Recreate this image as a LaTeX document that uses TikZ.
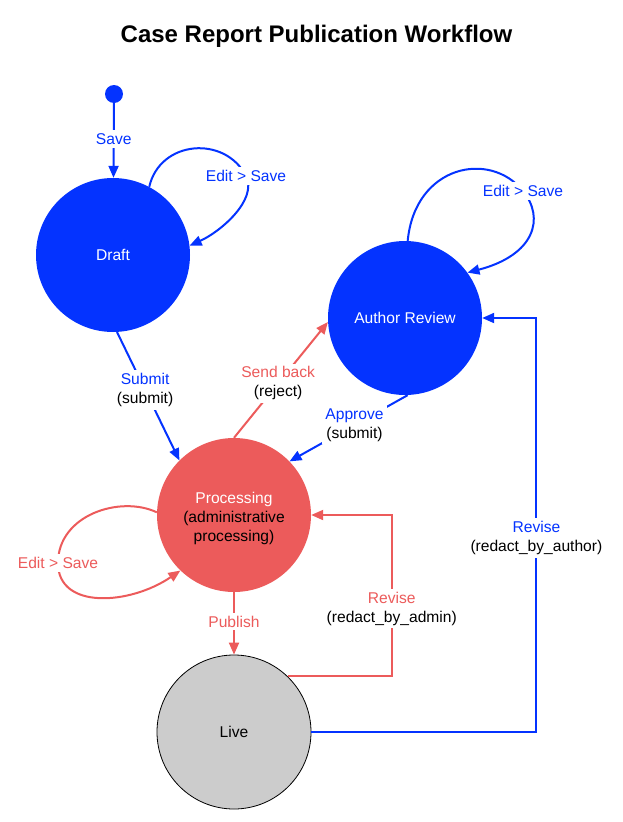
\documentclass[tikz,border=0pt]{standalone}
\usepackage{fontspec}
\setmainfont{Liberation Sans}
\usetikzlibrary{arrows.meta}
\definecolor{wfblue}{RGB}{4,51,255}
\definecolor{wfred}{RGB}{236,91,91}
\definecolor{wfgray}{RGB}{204,204,204}
\begin{document}
\begin{tikzpicture}[x=1pt,y=-1pt,
  every node/.style={font=\fontsize{15.6}{19}\selectfont},
  state/.style={circle, minimum size=154pt, inner sep=0pt, align=center},
  conn/.style={line width=2pt, -{Triangle[length=12pt,width=10pt]}},
  bconn/.style={conn, draw=wfblue},
  rconn/.style={conn, draw=wfred},
  lbl/.style={fill=white, inner sep=3pt, align=center, text=black},
]
\useasboundingbox (0,0) rectangle (623,822);
\node[anchor=base, font=\bfseries\fontsize{24}{28}\selectfont] (title) at (316.5,42) {Case Report Publication Workflow};
\node[circle, fill=wfblue, minimum size=18pt, inner sep=0pt] (start) at (114,94) {};
\node[state, fill=wfblue, text=white] (draft) at (113,255) {Draft};
\node[state, fill=wfblue, text=white] (ar) at (405,318) {Author Review};
\node[state, fill=wfred, label={[align=center, yshift=-3pt]center:{\textcolor{white}{Processing}\\(administrative\\processing)}}] (proc) at (234,515) {};
\node[state, fill=wfgray, draw=black, line width=0.8pt] (live) at (234,732) {Live};

\draw[bconn] (start) -- node[lbl, text=wfblue, pos=0.48]{Save} (draft);
\draw[bconn] (draft.62) .. controls (160,140) and (225,135) .. (246,176) node[lbl,text=wfblue]{Edit > Save} .. controls (258,200) and (220,232) .. (draft.7);
\draw[bconn] (draft.-87) -- node[lbl, pos=0.45]{\textcolor{wfblue}{Submit}\\(submit)} (proc.135);
\draw[rconn] (proc.90) -- node[lbl, pos=0.47]{\textcolor{wfred}{Send back}\\(reject)} (ar.183);
\draw[bconn] (ar.-88) -- node[lbl, pos=0.45]{\textcolor{wfblue}{Approve}\\(submit)} (proc.44);
\draw[bconn] (ar.88) .. controls (415,165) and (490,150) .. (523,191) node[lbl, text=wfblue]{Edit > Save} .. controls (545,218) and (535,255) .. (ar.36);
\draw[rconn] (proc.178) .. controls (120,495) and (58,515) .. (58,563) node[lbl, text=wfred]{Edit > Save} .. controls (58,610) and (130,605) .. (proc.226);
\draw[rconn] (proc.south) -- node[lbl, text=wfred, pos=0.47]{Publish} (live.north);
\draw[rconn] (live.46) -- ++(104,0) |- node[lbl, pos=0.21]{\textcolor{wfred}{Revise}\\(redact\_by\_admin)} (proc.east);
\draw[bconn] (live.east) -- ++(225,0) |- node[lbl, pos=0.234]{\textcolor{wfblue}{Revise}\\(redact\_by\_author)} (ar.east);
\end{tikzpicture}
\end{document}
